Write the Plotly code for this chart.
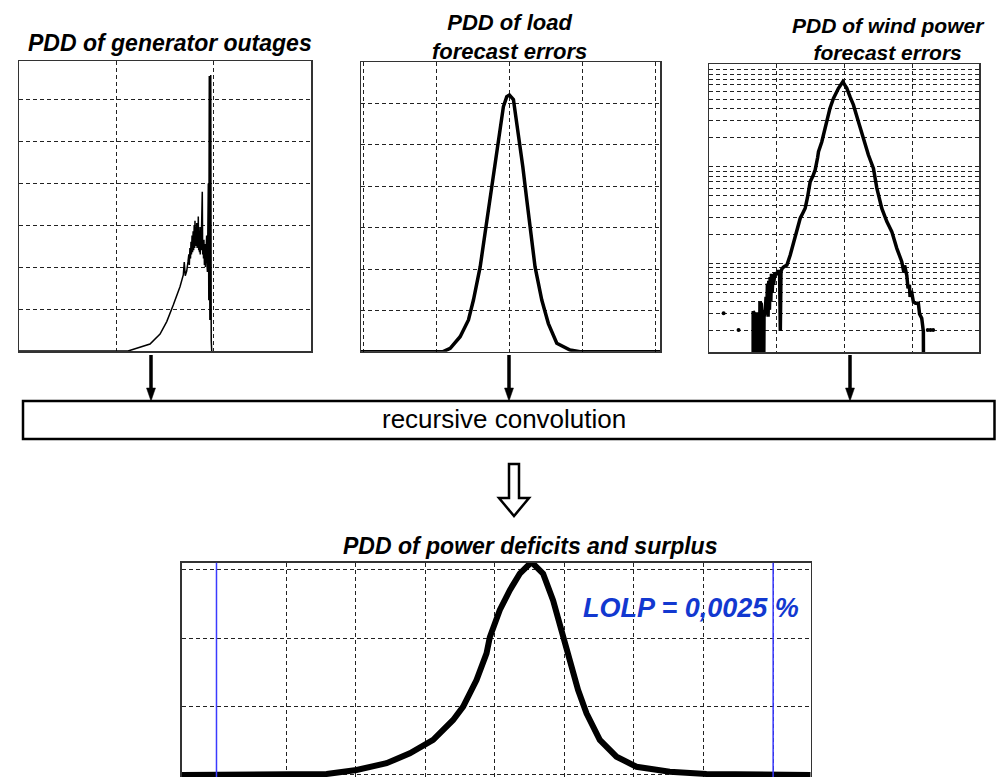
import plotly.graph_objects as go

W, H = 996, 777

# ---------------- data ----------------
# PDD of generator outages (linear axes)
gen_x = [0.0, 1.12, 1.209, 1.346, 1.449, 1.518, 1.585, 1.654, 1.688, 1.698, 1.708, 1.723, 1.736,
         1.745, 1.750, 1.756, 1.762, 1.767, 1.772, 1.778, 1.783, 1.789, 1.794, 1.800, 1.805,
         1.808, 1.812, 1.817, 1.821, 1.826, 1.830, 1.834, 1.838, 1.842, 1.846, 1.850, 1.854,
         1.858, 1.862, 1.867, 1.871, 1.877, 1.883, 1.887, 1.891, 1.896, 1.900, 1.905, 1.910,
         1.915, 1.921, 1.928, 1.933, 1.936, 1.945, 1.950, 1.955, 1.961, 1.966, 1.970, 1.975, 1.98]
gen_y = [0.0, 0.0, 0.064, 0.167, 0.405, 0.70, 1.095, 1.531, 1.81, 2.12, 1.79, 1.905, 2.12,
         2.30, 2.05, 2.45, 2.20, 2.60, 2.30, 2.75, 2.35, 2.85, 2.40, 3.00, 2.45,
         3.10, 2.55, 2.95, 2.50, 3.05, 2.45, 2.90, 2.50, 3.20, 2.40, 2.95, 2.35,
         2.85, 2.30, 2.95, 2.40, 3.04, 3.79, 2.30, 2.60, 2.20, 2.65, 2.05, 2.55,
         2.00, 2.60, 2.75, 2.00, 1.88, 3.99, 1.21, 6.55, 0.74, 6.43, 6.57, 0.26, 0.0]

# PDD of load forecast errors
load_x = [-2.03, -0.906, -0.81, -0.674, -0.56, -0.492, -0.40, -0.332, -0.264, -0.195, -0.137,
          -0.082, -0.036, 0.0, 0.055, 0.123, 0.183, 0.238, 0.292, 0.351, 0.443, 0.533, 0.648,
          0.83, 0.966, 2.06]
load_y = [0.0, 0.0, 0.082, 0.363, 0.767, 1.25, 2.05, 2.86, 3.67, 4.48, 5.29,
          5.93, 6.17, 6.21, 6.10, 5.29, 4.48, 3.67, 2.86, 2.05, 1.25, 0.68, 0.204,
          0.04, 0.0, 0.0]

# PDD of wind power forecast errors (log y axis)
wind_x = [-1.35, -1.35, -1.33, -1.32, -1.30, -1.30, -1.28, -1.27, -1.25, -1.25, -1.23, -1.22,
          -1.21, -1.19, -1.19, -1.17, -1.16, -1.15, -1.14, -1.13, -1.12, -1.11, -1.10, -1.09,
          -1.08, -1.07, -1.06, -1.05, -1.03, -1.0, -0.98, -0.96, -0.95, -0.94, -0.926, -0.90,
          -0.853, -0.804, -0.77, -0.731, -0.70, -0.657, -0.62, -0.584, -0.55, -0.51, -0.47,
          -0.437, -0.40, -0.388, -0.34, -0.315, -0.265, -0.22, -0.168, -0.094, -0.03, 0.029,
          0.08, 0.126, 0.2, 0.274, 0.347, 0.421, 0.471, 0.544, 0.618, 0.691, 0.765, 0.838,
          0.87, 0.88, 0.912, 0.93, 0.95, 0.96, 0.98, 1.009, 1.04, 1.082, 1.10, 1.132, 1.156, 1.166]
wind_y = [1e-6, 0.00032, 0.00030, 1e-6, 1e-6, 0.00031, 0.00028, 1e-6, 1e-6, 0.00040, 0.00038, 0.00030,
          1e-6, 1e-6, 0.00028, 0.00033, 0.00045, 0.00030, 0.00062, 0.00028, 0.00066, 0.00033, 0.00072, 0.00040,
          0.00078, 0.00050, 0.00070, 0.00060, 0.00080, 0.00076, 0.00085, 0.00075, 0.00020, 0.00082, 0.00088, 0.00092,
          0.00096, 0.00122, 0.00150, 0.00182, 0.00230, 0.00293, 0.00330, 0.00372, 0.00480, 0.0070, 0.0080,
          0.00925, 0.0125, 0.0143, 0.0180, 0.0213, 0.0316, 0.0400, 0.0509, 0.0647, 0.0757, 0.0647,
          0.052, 0.0435, 0.0292, 0.0197, 0.0132, 0.0096, 0.0060, 0.0037, 0.0027, 0.00213, 0.00143, 0.00104,
          0.00080, 0.00095, 0.00075, 0.00055, 0.00060, 0.00045, 0.00052, 0.00040, 0.000387, 0.000387, 0.00030,
          0.00027, 0.000197, 1e-6]
wind_dots_x = [-1.785, -1.565, 1.22, 1.26, 1.30]
wind_dots_y = [0.000305, 0.000205, 0.000205, 0.000205, 0.000205]
wind_grid = [m * 10.0 ** e for e in (-4, -3, -2, -1) for m in range(1, 10)] + [1.0]

# PDD of power deficits and surplus
res_x = [-4.5, -2.418, -1.987, -1.556, -1.221, -0.886, -0.599, -0.455, -0.263, -0.119, -0.072,
         0.072, 0.216, 0.359, 0.527, 0.694, 0.838, 0.958, 1.078, 1.197, 1.318, 1.509, 1.749,
         2.036, 2.514, 3.042, 4.54]
res_y = [0.0, 0.015, 0.073, 0.171, 0.317, 0.511, 0.803, 0.997, 1.387, 1.776, 2.01,
         2.41, 2.70, 2.94, 3.11, 2.94, 2.55, 2.12, 1.68, 1.24, 0.90, 0.511, 0.267,
         0.12, 0.048, 0.015, 0.0]
lolp_limits = [-4, 4]

titles = ["PDD of generator outages", "PDD of load<br>forecast errors",
          "PDD of wind power<br>forecast errors", "PDD of power deficits and surplus"]
box_label = "recursive convolution"
lolp_label = "LOLP = 0,0025 %"

# ---------------- helpers ----------------
def px(x):
    return x / W

def py(y):
    return 1 - y / H

FONT = "Liberation Sans, Arial, sans-serif"
GRID = dict(showgrid=True, gridcolor="#222", gridwidth=1, griddash="4px,3px",
            showline=True, mirror=True, linecolor="#333", linewidth=1.5,
            showticklabels=False, ticks="", zeroline=False, fixedrange=True)

fig = go.Figure()
fig.add_trace(go.Scatter(x=gen_x, y=gen_y, mode="lines", line=dict(color="black", width=1.5),
                         xaxis="x", yaxis="y", hoverinfo="skip"))
fig.add_trace(go.Scatter(x=load_x, y=load_y, mode="lines", line=dict(color="black", width=3.5),
                         xaxis="x2", yaxis="y2", hoverinfo="skip"))
fig.add_trace(go.Scatter(x=wind_x, y=wind_y, mode="lines", line=dict(color="black", width=3.5),
                         xaxis="x3", yaxis="y3", hoverinfo="skip"))
fig.add_trace(go.Scatter(x=wind_dots_x, y=wind_dots_y, mode="markers",
                         marker=dict(color="black", size=4), xaxis="x3", yaxis="y3", hoverinfo="skip"))
fig.add_trace(go.Scatter(x=res_x, y=res_y, mode="lines", line=dict(color="black", width=6),
                         xaxis="x4", yaxis="y4", hoverinfo="skip"))

fig.update_layout(
    width=W, height=H, margin=dict(l=0, r=0, t=0, b=0),
    paper_bgcolor="white", plot_bgcolor="white", showlegend=False, hovermode=False,
    xaxis=dict(domain=[px(19), px(311)], range=[0, 3], dtick=1, anchor="y", **GRID),
    yaxis=dict(domain=[py(351), py(61)], range=[0, 6.905], dtick=1, anchor="x", **GRID),
    xaxis2=dict(domain=[px(361), px(660)], range=[-2.03, 2.06], dtick=1, anchor="y2", **GRID),
    yaxis2=dict(domain=[py(351.7), py(62.3)], range=[0, 7.0], dtick=1, anchor="x2", **GRID),
    xaxis3=dict(domain=[px(709), px(979)], range=[-2.0, 1.975], dtick=1, anchor="y3", **GRID),
    yaxis3=dict(domain=[py(352), py(64)], type="log", range=[-3.917, -0.938],
                tickmode="array", tickvals=wind_grid, anchor="x3", **GRID),
    xaxis4=dict(domain=[px(181.7), px(810.7)], range=[-4.5, 4.54], dtick=1, anchor="y4", **GRID),
    yaxis4=dict(domain=[0, py(562.7)], range=[-0.03, 3.10], dtick=1, anchor="x4", **GRID),
)

shapes = []
# LOLP limit lines
for v in lolp_limits:
    shapes.append(dict(type="line", xref="x4", yref="y4 domain", x0=v, x1=v, y0=0, y1=1,
                       line=dict(color="#3a3aff", width=1.5)))
# thin arrows into the convolution box
for ax in (151, 509, 850):
    shapes.append(dict(type="line", xref="paper", yref="paper", x0=px(ax), x1=px(ax),
                       y0=py(355), y1=py(390), line=dict(color="black", width=3.5)))
    shapes.append(dict(type="path", xref="paper", yref="paper",
                       path=f"M {px(ax-4.5)},{py(388)} L {px(ax+4.5)},{py(388)} L {px(ax)},{py(401)} Z",
                       fillcolor="black", line=dict(color="black", width=0.5)))
# convolution box
shapes.append(dict(type="rect", xref="paper", yref="paper", x0=px(23), x1=px(994.5),
                   y0=py(439), y1=py(401), line=dict(color="black", width=2.5), fillcolor="white",
                   layer="below"))
# hollow down arrow
pts = [(509, 464), (519, 464), (519, 498), (529, 498), (514, 516), (499, 498), (509, 498)]
path = "M " + " L ".join(f"{px(a)},{py(b)}" for a, b in pts) + " Z"
shapes.append(dict(type="path", xref="paper", yref="paper", path=path, fillcolor="white",
                   line=dict(color="black", width=2.5)))
fig.update_layout(shapes=shapes)

ann = []
def label(text, x, y, size, color="black", bold_italic=True):
    t = f"<b><i>{text}</i></b>" if bold_italic else text
    ann.append(dict(text=t, x=px(x), y=py(y), xref="paper", yref="paper", showarrow=False,
                    xanchor="center", yanchor="middle", align="center",
                    font=dict(family=FONT, size=size, color=color)))

label(titles[0], 170, 43, 23)
label(titles[1], 509, 37, 22)
label(titles[2], 888, 39, 21)
label(titles[3], 530, 546, 23)
label(box_label, 504, 419, 26, bold_italic=False)
label(lolp_label, 691, 608, 27, color="#1238d0")
fig.update_layout(annotations=ann)

fig.write_html("out.html", config={"displayModeBar": False, "staticPlot": True},
               post_script="document.body.style.margin='0px';document.body.style.overflow='hidden';")
